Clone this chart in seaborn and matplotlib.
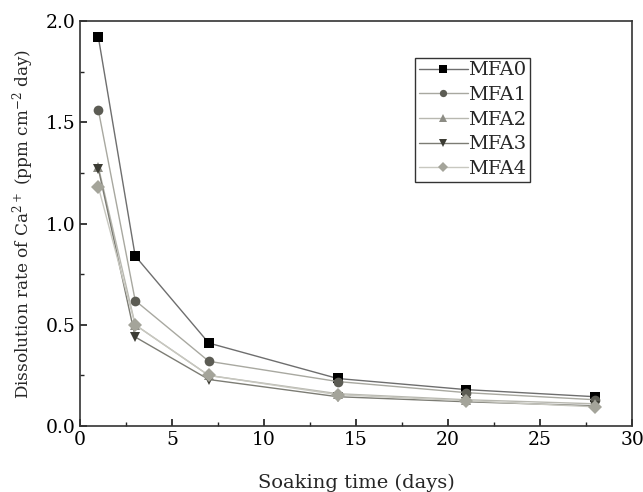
import matplotlib
matplotlib.use("Agg")
import matplotlib.pyplot as plt
import pandas as pd
import seaborn as sns
from matplotlib.ticker import MultipleLocator

days = [1, 3, 7, 14, 21, 28]
series_names = ["MFA0", "MFA1", "MFA2", "MFA3", "MFA4"]
mfa0 = [1.92, 0.84, 0.41, 0.235, 0.18, 0.145]
mfa1 = [1.56, 0.62, 0.32, 0.22, 0.165, 0.13]
mfa2 = [1.28, 0.50, 0.25, 0.16, 0.13, 0.11]
mfa3 = [1.27, 0.44, 0.23, 0.145, 0.12, 0.10]
mfa4 = [1.18, 0.50, 0.25, 0.155, 0.125, 0.095]

marker_colors = ["#000000", "#5c5c54", "#8c8c84", "#3c3c34", "#a4a49a"]
line_colors = ["#6e6e6e", "#a8a8a0", "#b8b8b0", "#7c7c74", "#c8c8c0"]
markers = ["s", "o", "^", "v", "D"]

rows = []
for name, vals in zip(series_names, [mfa0, mfa1, mfa2, mfa3, mfa4]):
    for d, v in zip(days, vals):
        rows.append({"day": d, "rate": v, "sample": name})
df = pd.DataFrame(rows)

sns.set_theme(style="ticks")
plt.rcParams["font.family"] = ["DejaVu Serif"]
plt.rcParams["mathtext.fontset"] = "dejavuserif"

fig = plt.figure(figsize=(6.43, 4.92), dpi=100)
ax = fig.add_axes([0.1244, 0.134, 0.8586, 0.823])

sns.lineplot(data=df, x="day", y="rate", hue="sample", style="sample",
             palette=dict(zip(series_names, marker_colors)),
             markers=dict(zip(series_names, markers)), dashes=False,
             markersize=7, markeredgewidth=0, linewidth=1.0, ax=ax)

# grey connecting lines, darker marker faces
for line, lc, mc in zip(ax.lines, line_colors, marker_colors):
    line.set_color(lc)
    line.set_markerfacecolor(mc)
    line.set_markeredgecolor(mc)

ax.set_xlim(0, 30)
ax.set_ylim(0, 2.0)
ax.xaxis.set_major_locator(MultipleLocator(5))
ax.xaxis.set_minor_locator(MultipleLocator(2.5))
ax.yaxis.set_major_locator(MultipleLocator(0.5))
ax.yaxis.set_minor_locator(MultipleLocator(0.25))
ax.tick_params(which="both", direction="in", labelsize=13.5, colors="#222222",
               labelcolor="black")
ax.tick_params(which="major", length=5)
ax.tick_params(which="minor", length=3)
ax.set_xticks([0, 5, 10, 15, 20, 25, 30])
ax.set_xticklabels(["0", "5", "10", "15", "20", "25", "30"])
ax.set_yticks([0, 0.5, 1.0, 1.5, 2.0])
ax.set_yticklabels(["0.0", "0.5", "1.0", "1.5", "2.0"])
for sp in ax.spines.values():
    sp.set_linewidth(1.2)
    sp.set_color("#333333")

ax.set_xlabel("Soaking time (days)", fontsize=14, labelpad=18)
ax.set_ylabel(r"Dissolution rate of Ca$^{2+}$ (ppm cm$^{-2}$ day)", fontsize=12.2, labelpad=7)

handles, labels = ax.get_legend_handles_labels()
for h, lc, mc in zip(handles, line_colors, marker_colors):
    h.set_color(lc)
    h.set_markerfacecolor(mc)
    h.set_markeredgecolor(mc)
leg = ax.legend(handles, labels, loc="upper left", bbox_to_anchor=(0.607, 0.91),
                frameon=True, fancybox=False, edgecolor="black", fontsize=14,
                markerscale=0.75, handlelength=2.5, handletextpad=0.0,
                labelspacing=0.34, borderpad=0.2, borderaxespad=0)
leg.get_frame().set_linewidth(1.0)

fig.savefig("out.png", dpi=100)
